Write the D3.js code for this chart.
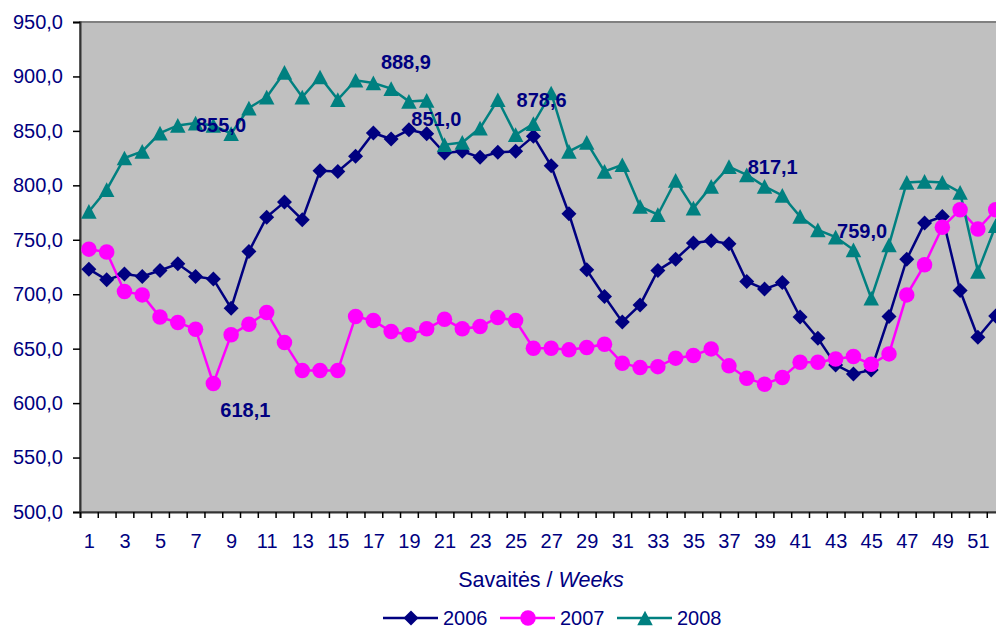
<!DOCTYPE html>
<html>
<head>
<meta charset="utf-8">
<script src="https://cdn.jsdelivr.net/npm/d3@7"></script>
<style>
  body { margin: 0; background: #fff; }
  svg { display: block; font-family: "Liberation Sans", Arial, sans-serif; }
</style>
</head>
<body>
<div id="chart"></div>
<script>
// weeks 1..52
const weeks = d3.range(1, 53);

// weekly values per year
const y2006 = [723.0, 713.2, 718.5, 716.3, 721.8, 727.9, 716.3, 713.9, 687.2, 739.3,
  770.8, 784.6, 768.4, 813.4, 812.8, 826.6, 848.0, 842.5, 851.0, 847.4,
  829.7, 831.2, 825.7, 830.3, 831.2, 845.0, 818.0, 773.9, 722.4, 697.9,
  674.6, 690.2, 721.8, 732.2, 747.0, 749.1, 746.3, 711.7, 704.7, 710.8,
  679.0, 659.6, 635.1, 626.8, 630.5, 679.5, 732.2, 765.3, 771.4, 703.4,
  660.5, 680.0];
const y2007 = [741.4, 738.7, 702.5, 699.4, 679.0, 674.0, 667.9, 618.1, 662.7, 672.5,
  683.2, 655.6, 629.9, 629.9, 629.9, 679.5, 675.8, 665.7, 662.7, 668.2,
  677.1, 668.2, 670.3, 678.6, 675.8, 650.4, 650.4, 648.9, 651.0, 654.1,
  636.7, 632.6, 633.5, 641.3, 643.7, 649.8, 634.2, 622.9, 617.4, 623.5,
  637.6, 637.6, 640.6, 642.8, 635.7, 645.2, 699.4, 727.0, 761.6, 777.6,
  759.8, 777.6];
const y2008 = [776.0, 796.0, 825.1, 831.2, 848.0, 855.0, 857.2, 855.0, 847.4, 871.0,
  881.1, 903.8, 881.1, 899.5, 878.7, 896.5, 894.0, 888.9, 877.1, 878.0,
  837.3, 839.4, 852.6, 878.6, 846.5, 856.6, 884.8, 831.2, 839.4, 812.8,
  818.9, 780.6, 773.0, 804.5, 779.1, 799.0, 817.1, 809.7, 799.0, 790.7,
  771.4, 759.0, 752.5, 740.8, 696.4, 745.4, 802.7, 803.6, 802.7, 793.5,
  720.9, 763.0];

const yTicks = d3.range(500, 951, 50);
const xLabelWeeks = d3.range(1, 53, 2);

// data labels (text, week position, value position)
const labelText = ["855,0", "888,9", "851,0", "878,6", "817,1", "759,0", "618,1"];
const labelWeek = [8.43, 18.83, 20.54, 26.46, 39.46, 44.49, 9.8];
const labelVal = [855.7, 913.1, 861.2, 878.7, 817.4, 758.7, 593.5];

const series = [
  { name: "2006", values: y2006, color: "#000080", marker: "diamond" },
  { name: "2007", values: y2007, color: "#FF00FF", marker: "circle" },
  { name: "2008", values: y2008, color: "#008080", marker: "triangle" }
];

const width = 996, height = 628;
const plotLeft = 80, plotTop = 22, plotBottom = 512;
const step = 17.78;

const svg = d3.select("#chart").append("svg")
  .attr("width", width)
  .attr("height", height);

const x = d3.scaleLinear()
  .domain([0.5, 52.5])
  .range([plotLeft, plotLeft + 52 * step]);

const y = d3.scaleLinear()
  .domain([500, 950])
  .range([plotBottom, plotTop]);

// plot area
svg.append("rect")
  .attr("x", plotLeft)
  .attr("y", plotTop)
  .attr("width", x(52.5) - plotLeft)
  .attr("height", plotBottom - plotTop)
  .attr("fill", "#C0C0C0")
  .attr("stroke", "#808080")
  .attr("stroke-width", 2);

// y axis
const yAxis = svg.append("g")
  .attr("transform", `translate(${plotLeft},0)`)
  .call(d3.axisLeft(y)
    .tickValues(yTicks)
    .tickSize(7)
    .tickPadding(10)
    .tickFormat(d => d.toFixed(1).replace(".", ",")));
yAxis.select(".domain").attr("stroke", "#333").attr("stroke-width", 2);
yAxis.selectAll(".tick line").attr("stroke", "#000").attr("stroke-width", 1.5);
yAxis.selectAll("text")
  .attr("fill", "#000080")
  .attr("font-size", 20);

// x axis: tick marks between categories
const xMarks = svg.append("g")
  .attr("transform", `translate(0,${plotBottom})`)
  .call(d3.axisBottom(x)
    .tickValues(d3.range(0.5, 53, 1))
    .tickSize(6)
    .tickFormat(""));
xMarks.select(".domain").attr("stroke", "#333").attr("stroke-width", 2);
xMarks.selectAll(".tick line").attr("stroke", "#000").attr("stroke-width", 1.5);

// x axis labels
const xLabels = svg.append("g")
  .attr("transform", `translate(0,${plotBottom})`)
  .call(d3.axisBottom(x)
    .tickValues(xLabelWeeks)
    .tickSize(0)
    .tickPadding(22));
xLabels.select(".domain").remove();
xLabels.selectAll("text")
  .attr("fill", "#000080")
  .attr("font-size", 20);

// axis title
const title = svg.append("text")
  .attr("x", 541)
  .attr("y", 587)
  .attr("text-anchor", "middle")
  .attr("fill", "#000080")
  .attr("font-size", 21.5);
title.append("tspan").text("Savaitės / ");
title.append("tspan").attr("font-style", "italic").text("Weeks");

// markers
function drawMarker(g, type, color, size) {
  const r = size / 2;
  if (type === "diamond") {
    g.append("path")
      .attr("d", `M0,${-r}L${r},0L0,${r}L${-r},0Z`)
      .attr("fill", color);
  } else if (type === "circle") {
    g.append("circle").attr("r", r).attr("fill", color);
  } else {
    const h = size * 0.95;
    g.append("path")
      .attr("d", `M0,${-h / 2}L${r},${h / 2}L${-r},${h / 2}Z`)
      .attr("fill", color);
  }
}

const markerSize = { diamond: 15, circle: 15.5, triangle: 15.5 };

const line = d3.line()
  .x((d, i) => x(weeks[i]))
  .y(d => y(d));

series.forEach(s => {
  svg.append("path")
    .datum(s.values)
    .attr("d", line)
    .attr("fill", "none")
    .attr("stroke", s.color)
    .attr("stroke-width", 2.5);
});

series.forEach(s => {
  s.values.forEach((v, i) => {
    const g = svg.append("g")
      .attr("transform", `translate(${x(weeks[i])},${y(v)})`);
    drawMarker(g, s.marker, s.color, markerSize[s.marker]);
  });
});

// data labels
labelText.forEach((t, i) => {
  svg.append("text")
    .attr("x", x(labelWeek[i]))
    .attr("y", y(labelVal[i]))
    .attr("dy", "0.36em")
    .attr("text-anchor", "middle")
    .attr("font-size", 20)
    .attr("font-weight", "bold")
    .attr("fill", "#000080")
    .text(t);
});

// legend
const legendX = [383, 500, 617];
const legend = svg.append("g").attr("transform", "translate(0,618)");
series.forEach((s, i) => {
  const g = legend.append("g").attr("transform", `translate(${legendX[i]},0)`);
  g.append("line")
    .attr("x1", 0).attr("x2", 55)
    .attr("stroke", s.color)
    .attr("stroke-width", 2.5);
  const m = g.append("g").attr("transform", "translate(28,0)");
  drawMarker(m, s.marker, s.color, markerSize[s.marker]);
  g.append("text")
    .attr("x", 60)
    .attr("dy", "0.36em")
    .attr("fill", "#000080")
    .attr("font-size", 20)
    .text(s.name);
});
</script>
</body>
</html>
